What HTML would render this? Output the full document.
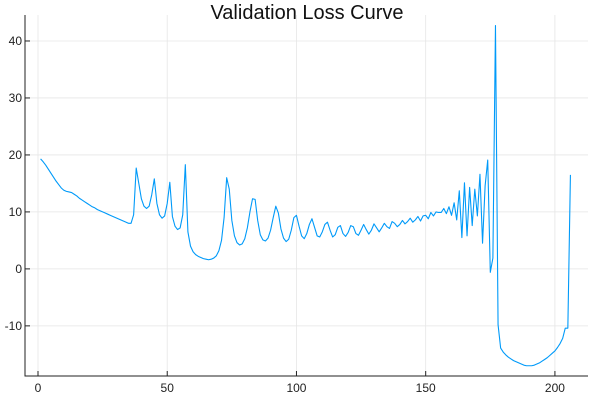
<!DOCTYPE html>
<html><head><meta charset="utf-8"><style>
html,body{margin:0;padding:0;background:#fff;}
svg{display:block;font-family:"Liberation Sans",sans-serif;}
</style></head><body>
<svg id="chart" width="600" height="400"></svg>
<script>
const xTicks=[0,50,100,150,200];
const yTicks=[-10,0,10,20,30,40];
const yTickLabels=["-10","0","10","20","30","40"];
const lossValues=[19.3,18.8,18.2,17.5,16.8,16.1,15.4,14.8,14.2,13.8,13.6,13.5,13.4,13.1,12.8,12.4,12.1,11.8,11.5,11.2,10.9,10.7,10.4,10.2,10.0,9.8,9.6,9.4,9.2,9.0,8.8,8.6,8.4,8.2,8.0,8.0,
9.5,17.7,15,12.3,11,10.6,11,13,15.8,11.5,9.5,8.9,9.3,11.5,15.2,9.2,7.5,6.9,7.2,9.5,18.3,6.5,4,3,2.5,2.2,2,1.8,1.7,1.6,1.7,1.9,2.3,3.2,5,9,16,14,8.5,5.8,4.6,4.2,4.4,5.3,7.2,10,12.3,12.2,8.5,6,5.1,4.9,5.4,6.8,9,11,9.8,7,5.4,4.8,5.2,6.8,9,9.4,7.5,5.8,5.3,6.2,7.8,8.8,7.3,5.8,5.6,6.5,7.8,8.2,6.8,5.6,6,7.3,7.6,6.2,5.7,6.4,7.6,7.4,6.2,5.9,6.8,7.8,6.9,6.1,6.8,7.9,7.2,6.5,7.2,8,7.4,7.1,8.3,8,7.4,7.8,8.5,7.9,8.3,8.9,8.2,8.6,9.2,8.4,9.3,9.4,8.8,9.9,9.3,10,9.9,9.9,10.6,9.7,10.9,9.4,
11.6,8.6,13.7,5.5,15.1,5.8,14.3,7.6,14,9.3,16.6,4.5,14.6,19.1,-0.6,1.9,42.7,-9.8,-13.9,-14.6,-15.1,
-15.5,-15.8,-16.1,-16.3,-16.5,-16.7,-16.9,-17,-17,-17,-16.9,-16.7,-16.5,-16.2,-15.9,-15.6,-15.2,-14.8,-14.4,-13.8,-13.1,-12.2,-10.4,-10.4,16.5];

const svg=document.getElementById('chart');
const NS='http://www.w3.org/2000/svg';
const L=25,R=588,T=15,B=376;
const xMin=-5.03,xMax=212.8,yMin=-18.8,yMax=44.56;
function sx(v){return L+(v-xMin)/(xMax-xMin)*(R-L);}
function sy(v){return B-(v-yMin)/(yMax-yMin)*(B-T);}
function mk(tag,attrs){const e=document.createElementNS(NS,tag);for(const k in attrs)e.setAttribute(k,attrs[k]);svg.appendChild(e);return e;}

xTicks.forEach(t=>{
  const g=mk('line',{x1:sx(t),x2:sx(t),y1:T,y2:B,stroke:'#e6e6e6','stroke-width':0.8});
  
  
  const tk=mk('line',{x1:sx(t),x2:sx(t),y1:B,y2:B-5,stroke:'#222','stroke-width':1});
  
  
  const tx=mk('text',{x:sx(t),y:B+16,'text-anchor':'middle','font-size':12,fill:'#222'});
  tx.textContent=t;
  
  
});
yTicks.forEach((t,i)=>{
  const g=mk('line',{x1:L,x2:R,y1:sy(t),y2:sy(t),stroke:'#e6e6e6','stroke-width':0.8});
  
  
  const tk=mk('line',{x1:L,x2:L+5,y1:sy(t),y2:sy(t),stroke:'#222','stroke-width':1});
  
  
  const tx=mk('text',{x:L-3,y:sy(t)+4,'text-anchor':'end','font-size':12,fill:'#222'});
  tx.textContent=yTickLabels[i];
  
  
});
const ax=mk('path',{d:`M${L},${T}V${B}H${R}`,fill:'none',stroke:'#222','stroke-width':1});



const d=lossValues.map((v,i)=>(i?'L':'M')+sx(i+1).toFixed(2)+','+sy(v).toFixed(2)).join('');
const line=mk('path',{d:d,fill:'none',stroke:'#009af9','stroke-width':1.1,'stroke-linejoin':'round'});



const title=mk('text',{x:307,y:19,'text-anchor':'middle','font-size':20,fill:'#111'});
title.textContent='Validation Loss Curve';


</script>
</body></html>
